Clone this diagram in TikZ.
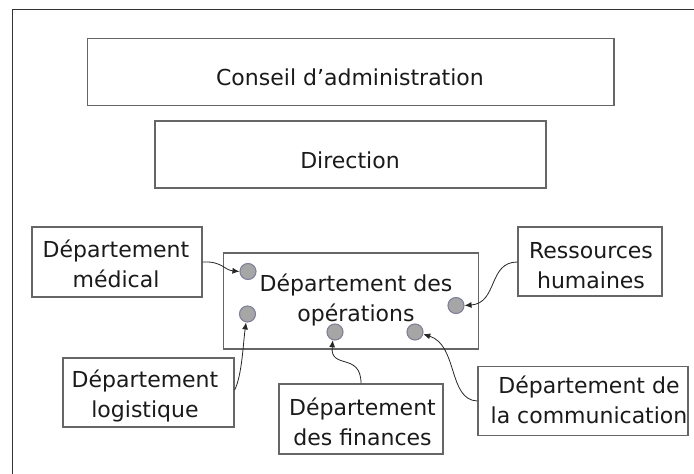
\documentclass[tikz,border=0pt]{standalone}
\usepackage{fontspec}
\setmainfont{DejaVu Sans}
\usetikzlibrary{arrows.meta}
\definecolor{boxline}{HTML}{666666}
\definecolor{frameline}{HTML}{333333}
\definecolor{dotfill}{HTML}{A6A6A6}
\definecolor{dotline}{HTML}{80809A}
\definecolor{txt}{HTML}{1A1A1A}
\newcommand{\twol}[2]{\begin{tabular}[t]{@{}c@{}}#1\\#2\end{tabular}}
\begin{document}
\begin{tikzpicture}[x=1pt,y=-1pt,
  box/.style={draw=boxline, line width=1.3pt, inner sep=0pt},
  lbl/.style={anchor=base, inner sep=0pt, text=txt, font=\fontsize{22}{30}\selectfont},
  dot/.style={circle, fill=dotfill, draw=dotline, line width=1.1pt, minimum size=16pt, inner sep=0pt},
  link/.style={-{Latex[length=7pt,width=6pt]}, line width=0.8pt, black!85}]
\useasboundingbox (0,0) rectangle (694,474);
\clip (0,0) rectangle (694,474);
\draw[line width=1.8pt, frameline] (12.5,9.5) rectangle (720,500);
% boxes
\node[box, minimum width=526.4pt, minimum height=66.6pt] (ca) at (350.8,72) {};
\node[box, minimum width=391pt, minimum height=67pt] (dir) at (350.5,154.5) {};
\node[box, minimum width=170pt, minimum height=70pt] (med) at (117,262) {};
\node[box, minimum width=144pt, minimum height=69pt] (rh) at (590,261.5) {};
\node[box, minimum width=254.5pt, minimum height=96pt] (ops) at (351,301) {};
\node[box, minimum width=171pt, minimum height=69pt] (log) at (148.5,392.5) {};
\node[box, minimum width=164pt, minimum height=70pt] (fin) at (361,419) {};
\node[box, minimum width=210pt, minimum height=69pt] (com) at (583,401) {};
% texts
\node[lbl] (tca) at (350,85.5) {Conseil d’administration};
\node[lbl] (tdir) at (350,168) {Direction};
\node[lbl] (tmed) at (116,257) {\twol{Département}{médical}};
\node[lbl] (trh) at (591,258) {\twol{Ressources}{humaines}};
\node[lbl] (tops) at (356,291.5) {\twol{Département des}{opérations}};
\node[lbl] (tlog) at (145,387) {\twol{Département}{logistique}};
\node[lbl] (tfin) at (362.5,415) {\twol{Département}{des finances}};
\node[lbl] (tcom) at (589,393) {\twol{Département de}{la communication}};
% dots
\node[dot] (c1) at (248,271.5) {};
\node[dot] (c2) at (247.5,314) {};
\node[dot] (c3) at (335,332) {};
\node[dot] (c4) at (415,332) {};
\node[dot] (c5) at (456,305.5) {};
% connectors
\draw[link] (med.east |- 0,262) .. controls (222,261) and (224,270) .. (c1.west);
\draw[link] (rh.west |- 0,262) .. controls (488,262) and (498,303) .. (c5.east);
\draw[link] (log.east |- 0,390) .. controls (242,375) and (243,345) .. (c2.-100);
\draw[link] (fin.north) .. controls (361,352) and (330,370) .. (c3.-105);
\draw[link] (com.west) .. controls (448,400) and (458,345) .. (c4.-15);
\end{tikzpicture}
\end{document}
